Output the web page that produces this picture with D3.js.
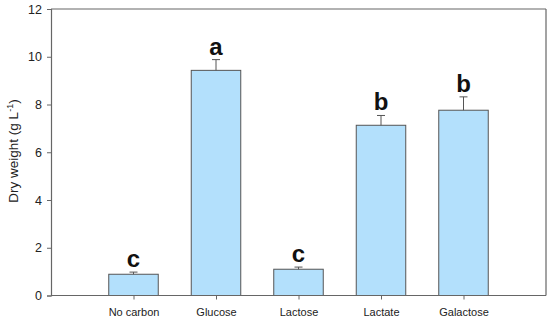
<!DOCTYPE html>
<html><head><meta charset="utf-8">
<script src="https://cdn.jsdelivr.net/npm/d3@7"></script>
<style>body{margin:0;background:#fff}svg{display:block}text{font-family:Arial,"Liberation Sans",sans-serif}</style>
</head><body><svg id="c" width="550" height="320"></svg>
<script>
const categories = ["No carbon","Glucose","Lactose","Lactate","Galactose"];
const values = [0.89, 9.43, 1.10, 7.13, 7.76];
const errors = [0.09, 0.45, 0.09, 0.41, 0.56];
const letters = ["c","a","c","b","b"];
const yTicks = [0,2,4,6,8,10,12];

const svg = d3.select("#c");
const L=51, R=546, T=9, B=295.5;
const x = d3.scaleLinear().domain([0,6]).range([L,R]);
const y = d3.scaleLinear().domain([0,12]).range([B,T]);
const bw = (x(1)-x(0))*0.6;
const axisCol = "#666";

svg.append("line").attr("x1",L).attr("x2",R).attr("y1",T).attr("y2",T).attr("stroke",axisCol).attr("stroke-width",1.2);
svg.append("line").attr("x1",R).attr("x2",R).attr("y1",T).attr("y2",B).attr("stroke",axisCol).attr("stroke-width",1.2);

const g = svg.append("g");
g.selectAll("rect.bar").data(values).join("rect").attr("class","bar")
 .attr("x",(d,i)=>x(i+1)-bw/2).attr("width",bw)
 .attr("y",d=>y(d)).attr("height",d=>y(0)-y(d))
 .attr("fill","#b3e0fc").attr("stroke","#555").attr("stroke-width",1);

g.selectAll("line.err").data(values).join("line").attr("class","err")
 .attr("x1",(d,i)=>x(i+1)).attr("x2",(d,i)=>x(i+1))
 .attr("y1",d=>y(d)).attr("y2",(d,i)=>y(d+errors[i])).attr("stroke","#555").attr("stroke-width",1);
g.selectAll("line.cap").data(values).join("line").attr("class","cap")
 .attr("x1",(d,i)=>x(i+1)-4).attr("x2",(d,i)=>x(i+1)+4)
 .attr("y1",(d,i)=>y(d+errors[i])).attr("y2",(d,i)=>y(d+errors[i])).attr("stroke","#555").attr("stroke-width",1);

g.selectAll("text.let").data(letters).join("text").attr("class","let")
 .attr("x",(d,i)=>x(i+1)).attr("y",(d,i)=>y(values[i]+errors[i])-5)
 .attr("text-anchor","middle").attr("font-size",24).attr("font-weight","bold").attr("fill","#111").text(d=>d);

const ya = svg.append("g").attr("transform",`translate(${L},0)`)
 .call(d3.axisLeft(y).tickValues(yTicks).tickSize(4).tickPadding(5).tickFormat(d3.format("d")));
ya.select(".domain").attr("stroke",axisCol).attr("stroke-width",1.2);
ya.selectAll(".tick line").attr("stroke",axisCol);
ya.selectAll(".tick text").attr("font-size",12.5).attr("fill","#222").attr("font-family","Arial");

const xa = svg.append("g").attr("transform",`translate(0,${B})`)
 .call(d3.axisBottom(x).tickValues([1,2,3,4,5]).tickSize(4).tickPadding(8.5).tickFormat(d=>categories[d-1]));
xa.select(".domain").attr("stroke",axisCol).attr("stroke-width",1.2).attr("d",`M${L},0H${R}`);
xa.selectAll(".tick line").attr("stroke",axisCol);
xa.selectAll(".tick text").attr("font-size",11).attr("fill","#222").attr("font-family","Arial");

const yl = svg.append("text").attr("transform","translate(18,151) rotate(-90)").attr("text-anchor","middle")
 .attr("font-size",13.5).attr("fill","#222");
yl.append("tspan").text("Dry weight (g L");
yl.append("tspan").attr("dy",-5).attr("font-size",9).text("-1");
yl.append("tspan").attr("dy",5).text(")");
</script></body></html>
